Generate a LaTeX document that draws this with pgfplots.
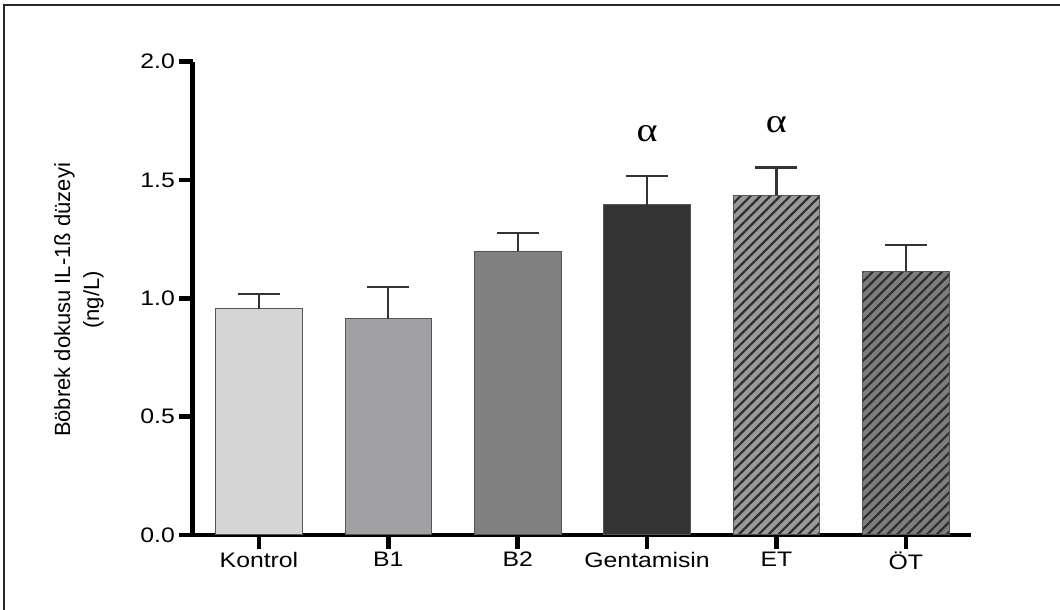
\documentclass[border=0pt]{standalone}
\usepackage{pgfplots}
\pgfplotsset{compat=1.18}
\usepackage{fontspec}
\setmainfont{Liberation Sans}
\newfontfamily\seriffont{Liberation Serif}
\usetikzlibrary{patterns.meta}
\definecolor{cK}{HTML}{D5D5D5}
\definecolor{cB1}{HTML}{A1A1A5}
\definecolor{cB2}{HTML}{808080}
\definecolor{cG}{HTML}{333333}
\definecolor{cET}{HTML}{9A9A9A}
\definecolor{cOT}{HTML}{7D7D7D}
\definecolor{hatch}{HTML}{2E2E2E}
\definecolor{edge}{HTML}{555555}
\definecolor{errc}{HTML}{333333}
\begin{document}
\begin{tikzpicture}[x=1pt,y=1pt]
\path[use as bounding box] (0,0) rectangle (1060,610);
\draw[line width=2pt, color=black!85] (3.5,0) -- (3.5,604.5) -- (1060,604.5);
\begin{axis}[
  scale only axis, width=778pt, height=473.3pt,
  at={(192.5pt,75pt)}, anchor=south west,
  xmin=-0.514, xmax=5.5, ymin=0, ymax=2,
  axis x line=bottom, axis y line=left,
  every outer x axis line/.append style={-, line width=4.5pt, black},
  every outer y axis line/.append style={-, line width=4.5pt, black},
  ybar, bar width=86.7pt, bar shift=0pt,
  xtick={0,1,2,3,4,5},
  xticklabels={Kontrol,B1,B2,Gentamisin,ET,ÖT},
  ytick={0,0.5,1,1.5,2},
  yticklabel style={/pgf/number format/.cd, fixed, fixed zerofill, precision=1, assume math mode=true},
  tick label style={font=\fontsize{21}{24}\selectfont, xscale=1.18, black},
  tick align=outside, major tick length=13.5pt,
  tick style={line width=4.5pt, black},
  clip=false,
  error bars/y dir=plus, error bars/y explicit,
  error bars/error bar style={line width=2.2pt, color=errc},
  error bars/error mark options={rotate=90, line width=2.2pt, mark size=21pt, color=errc},
]
\addplot[fill=cK, draw=edge, line width=1pt] coordinates {(0,0.956) +- (0,0.061)};
\addplot[fill=cB1, draw=edge, line width=1pt] coordinates {(1,0.913) +- (0,0.135)};
\addplot[fill=cB2, draw=edge, line width=1pt] coordinates {(2,1.200) +- (0,0.077)};
\addplot[fill=cG, draw=edge, line width=1pt] coordinates {(3,1.395) +- (0,0.122)};
\addplot[fill=cET, draw=edge, line width=1pt,
  postaction={pattern={Lines[angle=45,distance=7pt,line width=2.2pt]}, pattern color=hatch}]
  coordinates {(4,1.436) +- (0,0.117)};
\addplot[fill=cOT, draw=edge, line width=1pt,
  postaction={pattern={Lines[angle=45,distance=7pt,line width=2.2pt]}, pattern color=hatch}]
  coordinates {(5,1.114) +- (0,0.110)};
\pgfplotsinvokeforeach{0,1,2,3,4,5}{\draw[line width=4.5pt, black] (axis cs:#1,0) -- ([yshift=-14pt]axis cs:#1,0);}
\pgfplotsinvokeforeach{0,0.5,1,1.5,2}{\draw[line width=4.5pt, black] (axis cs:-0.514,#1) -- ([xshift=-13.5pt]axis cs:-0.514,#1);}
\node[font=\seriffont\fontsize{34}{34}\selectfont, xscale=1.18] at (axis cs:3,1.698) {α};
\node[font=\seriffont\fontsize{34}{34}\selectfont, xscale=1.18] at (axis cs:4,1.732) {α};
\end{axis}
\node[rotate=90, align=center, font=\fontsize{22}{29}\selectfont] at (79,310) {Böbrek dokusu IL-1ß düzeyi\\(ng/L)};
\end{tikzpicture}
\end{document}
